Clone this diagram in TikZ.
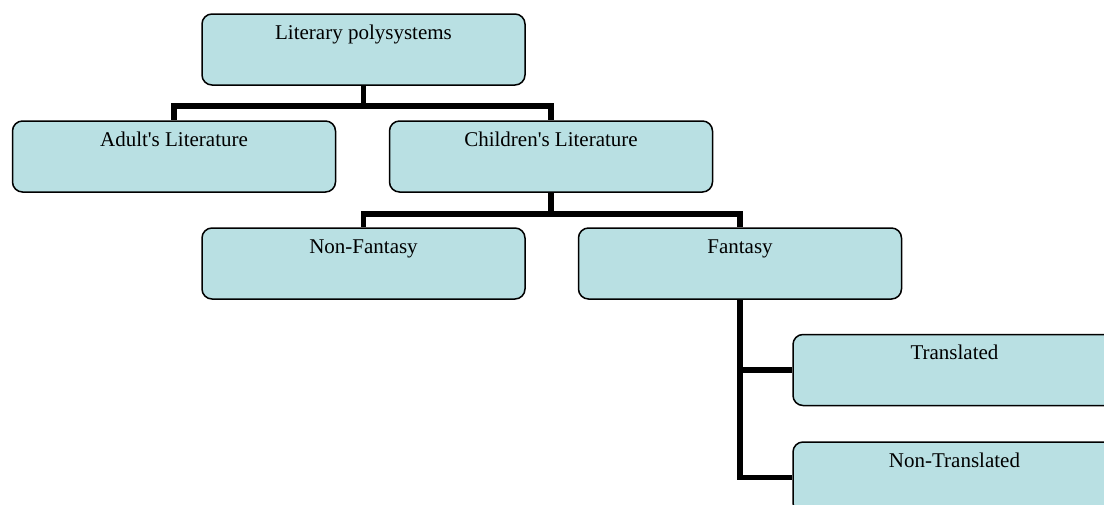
\documentclass[tikz,border=0pt]{standalone}
\usepackage{fontspec}
\setmainfont{Liberation Serif}
\usepackage{xcolor}
\definecolor{boxfill}{RGB}{185,224,227}
\tikzset{
  litbox/.style={draw=black, line width=1.5pt, fill=boxfill, rounded corners=10pt,
    minimum width=323pt, inner sep=0pt, text height=25pt, text depth=46pt,
    font=\fontsize{21}{24}\selectfont},
  branch/.style={line width=5.5pt}
}

\begin{document}
\begin{tikzpicture}[x=1pt,y=-1pt]
 \useasboundingbox (0,0) rectangle (1104,504);
 \clip (0,0) rectangle (1104,504);
 \node[litbox] (lit) at (363.5,49.5) {Literary polysystems};
 \node[litbox] (adult) at (174,156.5) {Adult\textquotesingle s Literature};
 \node[litbox] (child) at (551,156.5) {Children\textquotesingle s Literature};
 \node[litbox] (nonfan) at (363.5,263.5) {Non-Fantasy};
 \node[litbox] (fan) at (740,263.5) {Fantasy};
 \node[litbox] (trans) at (954.5,370) {Translated};
 \node[litbox] (nontrans) at (954.5,477.5) {Non-Translated};

 %%%%%%%%%%%%%%%%%%%%%%%%%%%%%%%%%%%
 \draw[branch] (lit.south)--++(0,20) -| (adult.north);
 \draw[branch] (lit.south)--++(0,20) -| (child.north);
 \draw[branch] (child.south)--++(0,21) -| (nonfan.north);
 \draw[branch] (child.south)--++(0,21) -| (fan.north);
 \draw[branch] (fan.south) |- (trans.west);
 \draw[branch] (fan.south) |- (nontrans.west);
\end{tikzpicture}
\end{document}
